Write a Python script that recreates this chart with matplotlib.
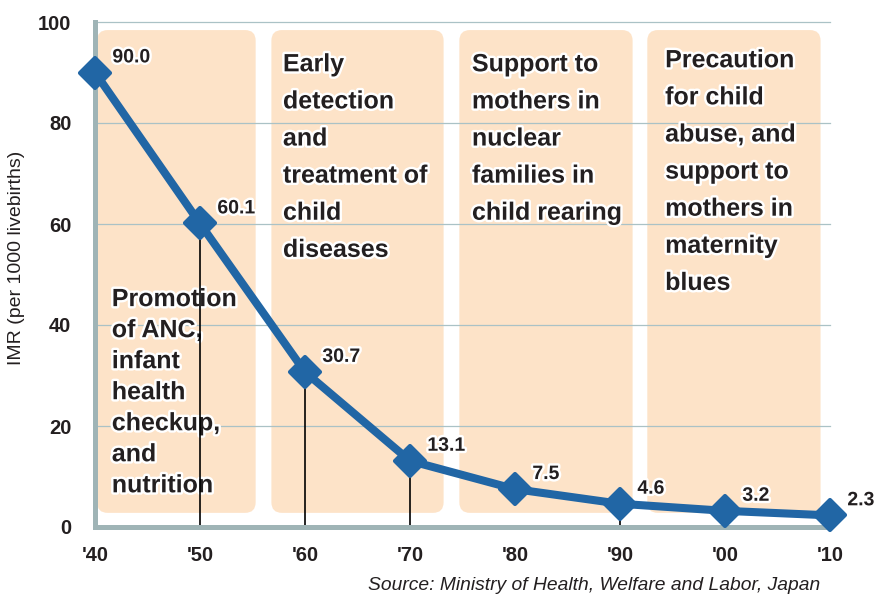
import matplotlib.pyplot as plt
import matplotlib.patheffects as pe
from matplotlib.patches import FancyBboxPatch
from matplotlib.markers import MarkerStyle

# IMR in Japan by decade
years = [1940, 1950, 1960, 1970, 1980, 1990, 2000, 2010]
imr = [90.0, 60.1, 30.7, 13.1, 7.5, 4.6, 3.2, 2.3]
tick_labels = ["'40", "'50", "'60", "'70", "'80", "'90", "'00", "'10"]
drop_years = [1950, 1960, 1970, 1990]  # years with a drop line to the axis

# policy periods (start, end) and their texts
period_spans = [(1940.2, 1955.3), (1956.8, 1973.2), (1974.7, 1991.2), (1992.6, 2009.1)]
period_texts = [
    "Promotion\nof ANC,\ninfant\nhealth\ncheckup,\nand\nnutrition",
    "Early\ndetection\nand\ntreatment of\nchild\ndiseases",
    "Support to\nmothers in\nnuclear\nfamilies in\nchild rearing",
    "Precaution\nfor child\nabuse, and\nsupport to\nmothers in\nmaternity\nblues",
]

plt.rcParams['font.family'] = ['Liberation Sans', 'DejaVu Sans']
dark = '#231f20'
blue = '#2166a5'
peach = '#fde3c8'
axis_col = '#9fb4b6'
grid_col = '#aac2c6'

fig = plt.figure(figsize=(8.79, 5.98), dpi=100)
ax = fig.add_axes([95 / 879, 1 - 527 / 598, (830 - 95) / 879, (527 - 22) / 598])
ax.set_xlim(1940, 2010)
ax.set_ylim(0, 100)

# shaded period boxes (rounded)
for x0, x1 in period_spans:
    box = FancyBboxPatch((x0, 2.8), x1 - x0, 98.4 - 2.8,
                         boxstyle='round,pad=0,rounding_size=1.0',
                         mutation_aspect=2.08, facecolor=peach,
                         edgecolor='none', zorder=1)
    ax.add_patch(box)

for y in [20, 40, 60, 80, 100]:
    ax.axhline(y, color=grid_col, linewidth=0.9, zorder=2, clip_on=False)

stroke = [pe.withStroke(linewidth=3.5, foreground='white')]
text_x = [1941.6, 1957.9, 1975.9, 1994.3]
text_y = [47.5, 94.0, 94.0, 94.8]
spacings = [1.37, 1.69, 1.69, 1.69]
for tx, ty, txt, ls in zip(text_x, text_y, period_texts, spacings):
    ax.text(tx, ty, txt, fontsize=18, fontweight='bold', color=dark,
            ha='left', va='top', linespacing=ls, zorder=3, path_effects=stroke)

drop_vals = [v for x, v in zip(years, imr) if x in drop_years]
ax.vlines(drop_years, 0, drop_vals, color='black', linewidth=1.2, zorder=4)
ax.plot(years, imr, color=blue, linewidth=5.8,
        marker=MarkerStyle('D', joinstyle='round'), markersize=15.5,
        markeredgecolor=blue, markeredgewidth=3, solid_joinstyle='round',
        zorder=5, clip_on=False)

for x, v in zip(years, imr):
    ax.annotate(f'{v:.1f}', (x, v), xytext=(12.5, 10.5), textcoords='offset points',
                fontsize=14, fontweight='bold', color=dark, ha='left',
                va='center', zorder=6, path_effects=stroke, annotation_clip=False)

for side in ['top', 'right']:
    ax.spines[side].set_visible(False)
for side in ['left', 'bottom']:
    ax.spines[side].set_color(axis_col)
    ax.spines[side].set_linewidth(3.6)
    ax.spines[side].set_zorder(4.5)

ax.set_xticks(years)
ax.set_xticklabels(tick_labels)
ax.set_yticks([0, 20, 40, 60, 80, 100])
ax.tick_params(length=0, labelsize=14.5, labelcolor=dark)
ax.tick_params(axis='y', pad=17)
ax.tick_params(axis='x', pad=14)
for lab in ax.get_xticklabels() + ax.get_yticklabels():
    lab.set_fontweight('bold')

fig.text(17 / 879, 1 - 258 / 598, 'IMR (per 1000 livebirths)', rotation=90,
         fontsize=14, color=dark, ha='center', va='center')
fig.text(820 / 879, 1 - 586 / 598, 'Source: Ministry of Health, Welfare and Labor, Japan',
         fontsize=13.9, style='italic', color=dark, ha='right', va='center')

plt.savefig('out.png', dpi=100)
